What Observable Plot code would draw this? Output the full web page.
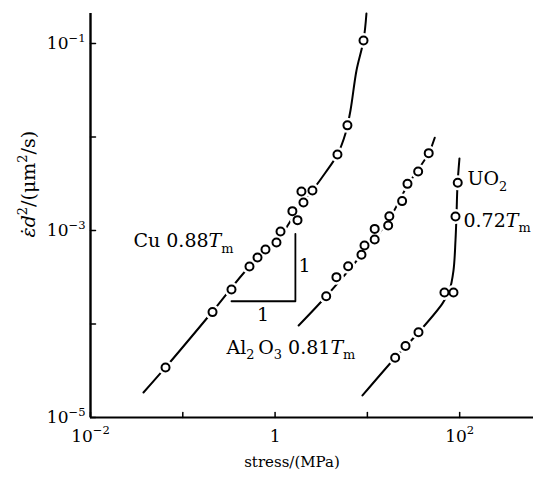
<!DOCTYPE html>
<html><head><meta charset="utf-8">
<script src="https://cdn.jsdelivr.net/npm/d3@7"></script>
<script src="https://cdn.jsdelivr.net/npm/@observablehq/plot@0.6"></script>
<style>body{margin:0;background:#fff} svg{display:block}</style>
</head><body><div id="chart"></div>
<script>
// ---- data (stress in MPa, strain-rate * d^2 in µm^2/s) ----
const cuStress = [0.065,0.21,0.337,0.528,0.645,0.787,1.035,1.145,1.54,1.75,1.93,2.03,2.54,4.74,6.08,9.08];
const cuRate   = [3.43e-5,1.34e-4,2.34e-4,4.12e-4,5.14e-4,6.26e-4,7.45e-4,9.75e-4,1.61e-3,1.29e-3,2.61e-3,1.99e-3,2.68e-3,6.50e-3,1.33e-2,0.1076];
const cuFitStress = [0.0375,0.065,0.21,0.528,1.035,1.88,2.54,3.52,4.74,5.79,6.56,7.62,9.08,9.77];
const cuFitRate   = [1.85e-5,3.43e-5,1.36e-4,4.12e-4,7.62e-4,1.85e-3,2.68e-3,4.17e-3,6.50e-3,1.09e-2,1.92e-2,5.14e-2,0.1076,0.209];

const alStress = [3.58,4.62,6.19,8.63,9.31,12.0,12.0,16.8,17.3,23.8,27.2,35.5,46.2];
const alRate   = [1.98e-4,3.17e-4,4.15e-4,5.49e-4,6.92e-4,8.02e-4,1.04e-3,1.13e-3,1.42e-3,2.06e-3,3.15e-3,4.27e-3,6.71e-3];
const alFitStress = [1.80,3.58,8.63,16.9,27.2,46.2,53.7];
const alFitRate   = [9.64e-5,1.98e-4,5.49e-4,1.28e-3,3.03e-3,6.71e-3,9.8e-3];

const uoStress = [20.0,25.9,35.8,68.4,85.7,90.1,95.3];
const uoRate   = [4.35e-5,5.82e-5,8.17e-5,2.17e-4,2.17e-4,1.41e-3,3.24e-3];
const uoFitStress = [8.85,20.1,35.8,65.2,77.4,85.7,90.1,92.3,94.7,99.5];
const uoFitRate   = [1.72e-5,4.38e-5,8.11e-5,1.66e-4,2.28e-4,3.73e-4,7.81e-4,1.41e-3,3.03e-3,5.89e-3];

const slopeStress = [0.337,1.66,1.66];
const slopeRate   = [1.75e-4,1.75e-4,9.2e-4];

const xTicks = [0.01,0.1,1,10,100];
const xTickLabels = [0.01,1,100];
const yTicks = [1e-5,1e-4,1e-3,1e-2,1e-1];
const yTickLabels = [1e-5,1e-3,1e-1];

const labelText   = ["Cu 0.88*T*_{m}", "Al_{2}\u2009O_{3} 0.81*T*_{m}", "UO_{2}", "0.72*T*_{m}"];
const labelStress = [0.0292, 0.297, 121.6, 109.9];
const labelRate   = [6.58e-4, 4.83e-5, 3.03e-3, 1.10e-3];
const slopeLabelText   = ["1", "1"];
const slopeLabelStress = [2.08, 0.74];
const slopeLabelRate   = [3.64e-4, 1.07e-4];

const xTitle = "stress/(MPa)";
const yTitle = "*ε̇d*^{2}/(μm^{2}/s)";

// ---- build ----
const zip = (xs, ys) => xs.map((x, i) => ({x, y: ys[i]}));
const cu = zip(cuStress, cuRate), al = zip(alStress, alRate), uo = zip(uoStress, uoRate);
const allPts = [...cu, ...al, ...uo];
const fits = [zip(cuFitStress, cuFitRate), zip(alFitStress, alFitRate), zip(uoFitStress, uoFitRate)];
const labels = labelText.map((t, i) => ({t, x: labelStress[i], y: labelRate[i]}));
const slopeLabels = slopeLabelText.map((t, i) => ({t, x: slopeLabelStress[i], y: slopeLabelRate[i]}));

const fmtPow = v => { const e = Math.round(Math.log10(v)); return e === 0 ? "1" : `10^{${e < 0 ? "\u2212" + (-e) : e}}`; };
const tickShape = {draw(ctx, l) { ctx.moveTo(0, 0); ctx.lineTo(0, -l); }};
const serif = "'DejaVu Serif', serif";

const svg = Plot.plot({
  width: 533, height: 479,
  marginLeft: 90, marginRight: 0, marginTop: 13, marginBottom: 62,
  style: {background: "white", color: "black"},
  x: {type: "log", domain: [0.01, 631]},
  y: {type: "log", domain: [1e-5, 0.209]},
  marks: [
    Plot.ruleY([1e-5], {stroke: "black", strokeWidth: 2}),
    Plot.ruleX([0.01], {stroke: "black", strokeWidth: 2.4}),
    Plot.vector(xTicks, {x: d => d, y: () => 1e-5, length: 5, rotate: 0, anchor: "start", shape: tickShape, stroke: "black", strokeWidth: 1.5}),
    Plot.vector(yTicks, {x: () => 0.01, y: d => d, length: 5, rotate: 90, anchor: "start", shape: tickShape, stroke: "black", strokeWidth: 1.5}),
    ...fits.map(f => Plot.line(f, {x: "x", y: "y", curve: "catmull-rom", stroke: "black", strokeWidth: 2})),
    Plot.dot(allPts, {x: "x", y: "y", r: 7.5, fill: "white", stroke: null}),
    Plot.dot(allPts, {x: "x", y: "y", r: 4, fill: "white", stroke: "black", strokeWidth: 2}),
    Plot.line(zip(slopeStress, slopeRate), {x: "x", y: "y", stroke: "black", strokeWidth: 1.8}),
    Plot.text(labels, {x: "x", y: "y", text: "t", textAnchor: "start", lineAnchor: "bottom", fontSize: 19, fontFamily: serif, fill: "black"}),
    Plot.text(slopeLabels, {x: "x", y: "y", text: "t", textAnchor: "middle", lineAnchor: "bottom", fontSize: 19, fontFamily: serif, fill: "black"}),
    Plot.axisX(xTickLabels, {tickSize: 0, tickPadding: 12, tickFormat: fmtPow, fontSize: 17, fontFamily: serif, label: null, color: "black"}),
    Plot.axisY(yTickLabels, {tickSize: 0, tickPadding: 5, tickFormat: fmtPow, fontSize: 17, fontFamily: serif, label: null, color: "black"}),
    Plot.text([xTitle], {text: d => d, frameAnchor: "bottom", dx: -20, dy: 49, lineAnchor: "bottom", fontSize: 15, fontFamily: serif, fill: "black"}),
    Plot.text([yTitle], {text: d => d, frameAnchor: "left", rotate: -90, dx: -62, dy: 22, lineAnchor: "middle", fontSize: 19, fontFamily: serif, fill: "black"})
  ]
});
document.getElementById("chart").appendChild(svg);

// rich text: ^{sup}, _{sub}, *italic*
function rich(el, s) {
  const fs = parseFloat(getComputedStyle(el).fontSize) || 16;
  while (el.firstChild) el.removeChild(el.firstChild);
  const re = /\^\{([^}]*)\}|_\{([^}]*)\}|\*([^*]*)\*|([^\^_*]+)/g;
  let m, cur = 0;
  while ((m = re.exec(s))) {
    let txt, shift = 0, size = null, italic = false;
    if (m[1] !== undefined) { txt = m[1]; shift = -0.42 * fs; size = 0.68; }
    else if (m[2] !== undefined) { txt = m[2]; shift = 0.3 * fs; size = 0.68; }
    else if (m[3] !== undefined) { txt = m[3]; italic = true; }
    else txt = m[4];
    const t = document.createElementNS("http://www.w3.org/2000/svg", "tspan");
    t.textContent = txt;
    if (size) t.setAttribute("font-size", (size * fs).toFixed(2));
    if (italic) t.setAttribute("font-style", "italic");
    const d = shift - cur;
    if (d) t.setAttribute("dy", d.toFixed(2));
    cur = shift;
    el.appendChild(t);
  }
}
d3.select(svg).selectAll("text").each(function() {
  const s = this.textContent;
  if (/[\^_*]/.test(s)) rich(this, s);
});
</script></body></html>
